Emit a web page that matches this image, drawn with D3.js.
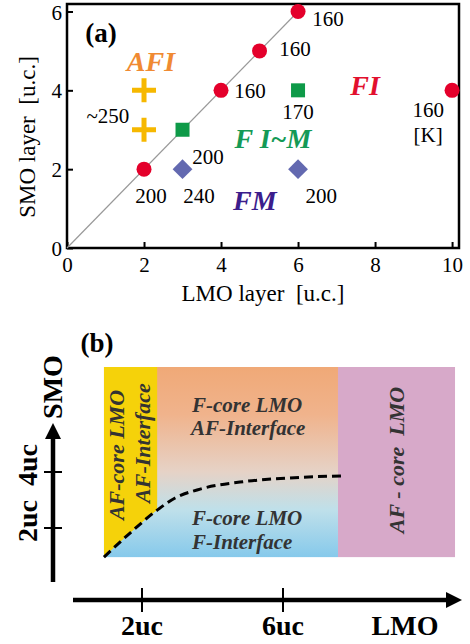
<!DOCTYPE html>
<html>
<head>
<meta charset="utf-8">
<script src="https://cdn.jsdelivr.net/npm/d3@7"></script>
<style>
  body { margin: 0; background: #fff; }
  svg { display: block; font-family: "Liberation Serif", "Times New Roman", serif; }
</style>
</head>
<body>
<svg width="470" height="644"></svg>
<script>
  // ---------- panel (a) data ----------
  const xTicks = [0, 2, 4, 6, 8, 10];
  const yTicks = [0, 2, 4, 6];
  const fiPoints = [[2, 2], [4, 4], [5, 5], [6, 6], [10, 4]];
  const fimPoints = [[3, 3], [6, 4]];
  const fmPoints = [[3, 2], [6, 2]];
  const afiPoints = [[2, 4], [2, 3]];
  const diagonal = [[0, 0], [6, 6]];
  const tcLabels = [
    {x: 6.78, y: 5.81, text: '160'},
    {x: 5.92, y: 5.05, text: '160'},
    {x: 4.75, y: 3.98, text: '160'},
    {x: 6.0, y: 3.46, text: '170'},
    {x: 9.38, y: 3.5, text: '160'},
    {x: 9.38, y: 2.87, text: '[K]'},
    {x: 1.06, y: 3.37, text: '~250'},
    {x: 3.66, y: 2.31, text: '200'},
    {x: 2.18, y: 1.34, text: '200'},
    {x: 3.43, y: 1.34, text: '240'},
    {x: 6.6, y: 1.34, text: '200'}
  ];
  const phaseLabels = [
    {x: 2.18, y: 4.74, text: 'AFI', color: '#f08a32'},
    {x: 7.74, y: 4.13, text: 'FI', color: '#e2102e'},
    {x: 5.35, y: 2.78, text: 'F I~M', color: '#149a56'},
    {x: 4.88, y: 1.22, text: 'FM', color: '#3b1d8c'}
  ];

  // ---------- panel (b) data (units of u.c.) ----------
  const bTicksX = [2, 6];
  const bTicksY = [2, 4];
  const boundary = [[0.92, 0.96], [1.66, 1.82], [2.43, 2.64], [2.94, 3.07],
                    [3.65, 3.39], [4.78, 3.64], [6.2, 3.79], [7.7, 3.86]];
  const bRegions = [
    {id: 'mid', x0: 0.92, x1: 7.56},
    {id: 'afcore', x0: 7.56, x1: 10.88}
  ];
  const yellowX = [0.92, 2.43];
  const bYRange = [0.96, 7.75];

  const svg = d3.select('svg');

  // ================= panel (a) =================
  const x = d3.scaleLinear().domain([0, 10.18]).range([67, 459]);
  const y = d3.scaleLinear().domain([0, 6.19]).range([248, 4]);

  const ga = svg.append('g');

  ga.append('rect')
    .attr('x', x(0)).attr('y', y(6.19))
    .attr('width', x(10.18) - x(0)).attr('height', y(0) - y(6.19))
    .attr('fill', 'none').attr('stroke', '#000').attr('stroke-width', 2.5);

  const xAxis = ga.append('g')
    .attr('transform', `translate(0,${y(0)})`)
    .call(d3.axisBottom(x).tickValues(xTicks).tickFormat(d3.format('d'))
      .tickSizeInner(-6).tickSizeOuter(0).tickPadding(9));
  const yAxis = ga.append('g')
    .attr('transform', `translate(${x(0)},0)`)
    .call(d3.axisLeft(y).tickValues(yTicks).tickFormat(d3.format('d'))
      .tickSizeInner(-6).tickSizeOuter(0).tickPadding(5));
  [xAxis, yAxis].forEach(a => {
    a.attr('font-family', null).attr('font-size', null);
    a.select('.domain').remove();
    a.selectAll('line').attr('stroke-width', 2);
    a.selectAll('text').attr('font-size', 21).attr('fill', '#000');
  });
  yAxis.selectAll('text').attr('dy', '0.36em');

  ga.append('text')
    .attr('x', 263).attr('y', 301)
    .attr('text-anchor', 'middle').attr('font-size', 23)
    .attr('xml:space', 'preserve')
    .text('LMO layer  [u.c.]');
  ga.append('text')
    .attr('transform', 'translate(35,137) rotate(-90)')
    .attr('text-anchor', 'middle').attr('font-size', 23)
    .attr('xml:space', 'preserve')
    .text('SMO layer  [u.c.]');

  const line = d3.line().x(d => x(d[0])).y(d => y(d[1]));
  ga.append('path')
    .attr('d', line(diagonal))
    .attr('fill', 'none').attr('stroke', '#999').attr('stroke-width', 1.2);

  ga.selectAll('.fi').data(fiPoints).enter().append('circle')
    .attr('cx', d => x(d[0])).attr('cy', d => y(d[1])).attr('r', 7.5)
    .attr('fill', '#e4002b');

  ga.selectAll('.fim').data(fimPoints).enter().append('rect')
    .attr('x', d => x(d[0]) - 7).attr('y', d => y(d[1]) - 7)
    .attr('width', 14).attr('height', 14)
    .attr('fill', '#0e9a48');

  ga.selectAll('.fm').data(fmPoints).enter().append('path')
    .attr('d', d3.symbol(d3.symbolSquare, 196))
    .attr('transform', d => `translate(${x(d[0])},${y(d[1])}) rotate(45)`)
    .attr('fill', '#6369b0');

  ga.selectAll('.afi').data(afiPoints).enter().append('path')
    .attr('d', d => {
      const p = d3.path();
      const cx = x(d[0]), cy = y(d[1]);
      p.moveTo(cx - 12, cy); p.lineTo(cx + 12, cy);
      p.moveTo(cx, cy - 12); p.lineTo(cx, cy + 12);
      return p.toString();
    })
    .attr('stroke', '#f6b800').attr('stroke-width', 5).attr('fill', 'none');

  ga.selectAll('.tc').data(tcLabels).enter().append('text')
    .attr('x', d => x(d.x)).attr('y', d => y(d.y))
    .attr('dy', '0.35em').attr('text-anchor', 'middle')
    .attr('font-size', 21)
    .text(d => d.text);

  ga.selectAll('.phase').data(phaseLabels).enter().append('text')
    .attr('x', d => x(d.x)).attr('y', d => y(d.y))
    .attr('dy', '0.35em').attr('text-anchor', 'middle')
    .attr('font-size', 28).attr('font-weight', 'bold').attr('font-style', 'italic')
    .attr('fill', d => d.color)
    .text(d => d.text);

  ga.append('text')
    .attr('x', 101).attr('y', 33).attr('dy', '0.35em')
    .attr('text-anchor', 'middle').attr('font-size', 27).attr('font-weight', 'bold')
    .text('(a)');

  // ================= panel (b) =================
  const xb = d3.scaleLinear().domain([0, 10]).range([71.5, 424]);
  const yb = d3.scaleLinear().domain([0, 10]).range([584, 304]);

  const gb = svg.append('g');
  const defs = svg.append('defs');

  const grad = defs.append('linearGradient')
    .attr('id', 'midgrad').attr('x1', 0).attr('y1', 0).attr('x2', 0).attr('y2', 1);
  [[0, '#f0a977'], [0.25, '#f0b38c'], [0.55, '#e6d2c6'], [0.75, '#bfe0ea'], [1, '#86c9eb']]
    .forEach(s => grad.append('stop').attr('offset', s[0]).attr('stop-color', s[1]));

  const fills = {mid: 'url(#midgrad)', afcore: '#d7a9c9'};
  gb.selectAll('.region').data(bRegions).enter().append('rect')
    .attr('x', d => xb(d.x0)).attr('width', d => xb(d.x1) - xb(d.x0))
    .attr('y', yb(bYRange[1])).attr('height', yb(bYRange[0]) - yb(bYRange[1]))
    .attr('fill', d => fills[d.id]);

  const curve = d3.curveMonotoneX;
  const above = d3.area()
    .x(d => xb(d[0])).y0(yb(bYRange[1])).y1(d => yb(d[1]))
    .curve(curve);
  defs.append('clipPath').attr('id', 'aboveclip')
    .append('path').attr('d', above(boundary));
  gb.append('rect')
    .attr('x', xb(yellowX[0])).attr('width', xb(yellowX[1]) - xb(yellowX[0]))
    .attr('y', yb(bYRange[1])).attr('height', yb(bYRange[0]) - yb(bYRange[1]))
    .attr('fill', '#f5d20a')
    .attr('clip-path', 'url(#aboveclip)');

  gb.append('path')
    .attr('d', d3.line().x(d => xb(d[0])).y(d => yb(d[1])).curve(curve)(boundary))
    .attr('fill', 'none').attr('stroke', '#000').attr('stroke-width', 3)
    .attr('stroke-dasharray', '9,5');

  const inner = [
    {x: 192, y: 412, text: 'F-core LMO'},
    {x: 191, y: 435, text: 'AF-Interface'},
    {x: 192, y: 525, text: 'F-core LMO'},
    {x: 192, y: 549, text: 'F-Interface'}
  ];
  gb.selectAll('.inner').data(inner).enter().append('text')
    .attr('x', d => d.x).attr('y', d => d.y)
    .attr('font-size', 21).attr('font-weight', 'bold').attr('font-style', 'italic')
    .attr('fill', '#333')
    .text(d => d.text);

  const rotated = [
    {x: 124, y: 455, text: 'AF-core LMO'},
    {x: 150, y: 443, text: 'AF-Interface'},
    {x: 404, y: 460, text: 'AF - core  LMO'}
  ];
  gb.selectAll('.rot').data(rotated).enter().append('text')
    .attr('transform', d => `translate(${d.x},${d.y}) rotate(-90)`)
    .attr('text-anchor', 'middle').attr('xml:space', 'preserve')
    .attr('font-size', 22).attr('font-weight', 'bold').attr('font-style', 'italic')
    .attr('fill', '#333')
    .text(d => d.text);

  // arrows
  const axY = 600, axX = 53;
  gb.append('line')
    .attr('x1', 73).attr('x2', 450).attr('y1', axY).attr('y2', axY)
    .attr('stroke', '#000').attr('stroke-width', 4.5);
  gb.append('path')
    .attr('d', `M462,${axY} L446,${axY - 8} L446,${axY + 8} Z`).attr('fill', '#000');
  gb.append('line')
    .attr('x1', axX).attr('x2', axX).attr('y1', 582).attr('y2', 435)
    .attr('stroke', '#000').attr('stroke-width', 4.5);
  gb.append('path')
    .attr('d', `M${axX},423 L${axX - 8},439 L${axX + 8},439 Z`).attr('fill', '#000');

  gb.selectAll('.xbt').data(bTicksX).enter().append('line')
    .attr('x1', d => xb(d)).attr('x2', d => xb(d))
    .attr('y1', axY - 12).attr('y2', axY + 12)
    .attr('stroke', '#000').attr('stroke-width', 2);
  gb.selectAll('.xbl').data(bTicksX).enter().append('text')
    .attr('x', d => xb(d)).attr('y', 635)
    .attr('text-anchor', 'middle').attr('font-size', 28).attr('font-weight', 'bold')
    .text(d => d + 'uc');
  gb.append('text')
    .attr('x', 405).attr('y', 635)
    .attr('text-anchor', 'middle').attr('font-size', 28).attr('font-weight', 'bold')
    .text('LMO');

  gb.selectAll('.ybt').data(bTicksY).enter().append('line')
    .attr('x1', axX - 9).attr('x2', axX + 9)
    .attr('y1', d => yb(d)).attr('y2', d => yb(d))
    .attr('stroke', '#000').attr('stroke-width', 2);
  gb.selectAll('.ybl').data(bTicksY).enter().append('text')
    .attr('transform', d => `translate(37,${yb(d) - 7}) rotate(-90)`)
    .attr('text-anchor', 'middle').attr('font-size', 28).attr('font-weight', 'bold')
    .text(d => d + 'uc');
  gb.append('text')
    .attr('transform', 'translate(62,387) rotate(-90)')
    .attr('text-anchor', 'middle').attr('font-size', 28).attr('font-weight', 'bold')
    .text('SMO');

  gb.append('text')
    .attr('x', 97).attr('y', 343).attr('dy', '0.35em')
    .attr('text-anchor', 'middle').attr('font-size', 27).attr('font-weight', 'bold')
    .text('(b)');
</script>
</body>
</html>
